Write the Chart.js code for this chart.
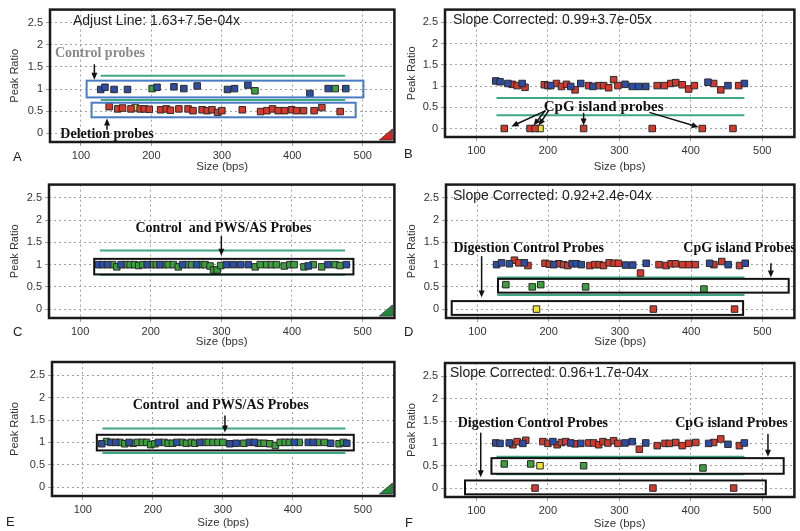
<!DOCTYPE html>
<html>
<head>
<meta charset="utf-8">
<script src="https://cdn.jsdelivr.net/npm/chart.js@4.4.1/dist/chart.umd.min.js"></script>
<style>
  body { margin: 0; background: #fff; width: 800px; height: 531px; overflow: hidden; position: relative; }
  canvas { position: absolute; }
</style>
</head>
<body>
<canvas id="pA"></canvas>
<canvas id="pB"></canvas>
<canvas id="pC"></canvas>
<canvas id="pD"></canvas>
<canvas id="pE"></canvas>
<canvas id="pF"></canvas>
<script>
// axis ticks shared by all six panels
const xTicks = [100, 200, 300, 400, 500];
const yTicks = [0, 0.5, 1, 1.5, 2, 2.5];
const lineX = [128, 475];

// panel A
const aBlue = [[128,0.99],[134,1.04],[147,0.99],[166,0.99],[208,1.04],[232,1.05],[246,1.01],[265,1.07],[308,0.99],[318,1.01],[337,1.09],[425,0.9],[451,1.01],[476,1.01]];
const aRed = [[140,0.6],[152,0.55],[159,0.57],[171,0.55],[184,0.55],[190,0.55],[197,0.54],[213,0.53],[221,0.55],[227,0.52],[239,0.55],[252,0.55],[259,0.51],[272,0.53],[279,0.51],[286,0.53],[294,0.47],[300,0.51],[329,0.53],[355,0.49],[364,0.51],[372,0.55],[380,0.51],[389,0.51],[399,0.53],[406,0.51],[416,0.51],[431,0.51],[442,0.58],[468,0.49]];
const aGreen = [[201,1.01],[347,0.96],[461,1.01]];
const aYellow = [[177,0.58]];
const aLimits = [1.3, 0.75];

// panel B
const bBlue = [[127,1.12],[133,1.1],[144,1.06],[164,1.06],[204,1.01],[232,0.99],[246,1.06],[263,0.99],[308,1.04],[318,0.99],[327,0.99],[337,0.99],[424,1.09],[452,1.01],[475,1.06]];
const bRed = [[150,1.04],[157,1.01],[168,0.97],[195,1.03],[200,1.01],[212,1.06],[219,0.99],[226,1.04],[238,0.91],[257,1.01],[271,1.01],[278,1.01],[285,0.96],[292,1.15],[298,1.01],[353,1.01],[363,1.01],[372,1.06],[379,1.08],[388,1.03],[397,0.93],[405,1.01],[432,1.06],[442,0.91],[467,1.01],
  [139,0],[175,0],[182,0],[250,0],[346,0],[416,0],[459,0]];
const bGreen = [];
const bYellow = [[189,0]];
const bLimits = [0.72, 0.31];

// panel C
const cBlue = [[126,1],[132,1],[139,1],[158,1],[195,1],[213,1],[245,1],[265,1],[307,1],[317,1],[327,1],[338,1],[423,0.97],[451,1],[477,1]];
const cGreen = [[146,1],[152,0.95],[164,1],[171,1],[177,1],[183,0.98],[189,1],[201,1],[208,1],[219,1],[225,1],[232,1],[239,0.95],[251,1],[258,1],[271,1],[277,1],[284,0.97],[289,0.88],[294,0.88],[299,0.98],[348,0.95],[355,1],[364,1],[371,1],[378,1],[389,0.97],[397,1],[403,1],[417,0.95],[430,1],[442,0.95],[461,1],[468,0.98]];
const cRed = [];
const cYellow = [];
const cLimits = [1.32, 0.77];

// panel D
const dBlue = [[127,1],[134,1.04],[145,1.02],[166,1.04],[207,1],[233,1.02],[239,1.02],[246,1],[308,0.99],[318,0.99],[337,1.03],[426,1.03],[452,1],[476,1.03]];
const dRed = [[152,1.1],[158,1.04],[171,0.98],[195,1.03],[201,1.01],[214,1.02],[221,1],[227,0.98],[258,0.98],[265,1],[271,1],[277,0.98],[285,1.04],[292,1.03],[298,1.03],[329,0.81],[355,1],[365,0.98],[372,1.02],[378,1.02],[388,1],[397,1],[406,1],[432,1],[443,1.07],[468,0.98],
  [347,0],[461,0]];
const dGreen = [[140,0.55],[177,0.5],[189,0.55],[252,0.5],[418,0.45]];
const dYellow = [[183,0]];
const dLimits = [0.71, 0.32];

// panel E
const eBlue = [[127,0.97],[140,1],[147,1],[166,1],[208,1],[234,1],[267,1],[310,0.97],[319,0.98],[338,1],[345,1],[402,1],[422,1],[429,1],[454,0.98],[477,0.98]];
const eGreen = [[134,1.02],[153,1],[160,0.97],[172,0.98],[178,1],[185,1],[191,1],[197,0.95],[203,0.97],[216,1],[222,0.98],[228,0.98],[242,1],[248,0.98],[255,1],[260,0.98],[273,1],[279,1],[286,1],[293,1],[300,1],[330,0.98],[351,0.98],[359,0.98],[367,0.97],[375,0.93],[382,1],[389,1],[395,1],[409,1],[435,1],[445,1],[466,0.97],[472,1]];
const eRed = [];
const eYellow = [];
const eLimits = [1.31, 0.76];

// panel F
const fBlue = [[127,1.01],[133,1],[146,1.01],[165,1],[207,1.04],[232,1.01],[246,1],[308,1.01],[318,1.04],[337,1.01],[425,1],[452,0.98],[475,1.01]];
const fRed = [[151,0.97],[157,1.04],[169,1.07],[193,1.04],[200,1],[213,0.97],[219,1.02],[225,1.04],[238,0.99],[257,1.01],[264,1.01],[271,0.97],[277,1.04],[284,1.01],[292,1.06],[298,1],[328,0.87],[353,0.95],[364,1],[370,1],[379,1.02],[388,0.95],[397,1],[407,1.02],[432,1.02],[442,1.1],[468,0.95],
  [182,0],[347,0],[460,0]];
const fGreen = [[139,0.54],[176,0.54],[250,0.5],[417,0.45]];
const fYellow = [[189,0.5]];
const fLimits = [0.7, 0.31];

const SANS = "'Liberation Sans', Arial, sans-serif";
const SERIF = "'Liberation Serif', 'Times New Roman', serif";

// boxes, arrows, labels drawn on top of the plot
const notes = {
  id: 'notes',
  afterDatasetsDraw(chart, args, o) {
    const { ctx, scales: { x, y } } = chart;
    ctx.save();
    (o.boxes || []).forEach(b => {
      ctx.lineWidth = 2;
      ctx.strokeStyle = b.color;
      const px0 = x.getPixelForValue(b.x0), px1 = x.getPixelForValue(b.x1);
      const py0 = y.getPixelForValue(b.y1), py1 = y.getPixelForValue(b.y0);
      ctx.strokeRect(px0, py0, px1 - px0, py1 - py0);
    });
    (o.arrows || []).forEach(r => {
      const x0 = x.getPixelForValue(r.x0), y0 = y.getPixelForValue(r.y0);
      const x1 = x.getPixelForValue(r.x1), y1 = y.getPixelForValue(r.y1);
      const ang = Math.atan2(y1 - y0, x1 - x0);
      ctx.strokeStyle = '#111';
      ctx.fillStyle = '#111';
      ctx.lineWidth = 1.5;
      ctx.beginPath();
      ctx.moveTo(x0, y0);
      ctx.lineTo(x1 - 4 * Math.cos(ang), y1 - 4 * Math.sin(ang));
      ctx.stroke();
      ctx.beginPath();
      ctx.moveTo(x1, y1);
      ctx.lineTo(x1 - 7 * Math.cos(ang) + 3 * Math.sin(ang), y1 - 7 * Math.sin(ang) - 3 * Math.cos(ang));
      ctx.lineTo(x1 - 7 * Math.cos(ang) - 3 * Math.sin(ang), y1 - 7 * Math.sin(ang) + 3 * Math.cos(ang));
      ctx.closePath();
      ctx.fill();
    });
    (o.texts || []).forEach(t => {
      ctx.font = 'bold ' + (t.size || 14) + 'px ' + SERIF;
      ctx.fillStyle = t.color || '#111';
      ctx.textAlign = 'center';
      ctx.textBaseline = 'middle';
      ctx.fillText(t.text, x.getPixelForValue(t.x), y.getPixelForValue(t.y));
    });
    ctx.restore();
  },
  afterDraw(chart, args, o) {
    const { ctx, chartArea: a } = chart;
    ctx.save();
    if (o.corner) {
      ctx.fillStyle = o.corner;
      ctx.strokeStyle = '#333';
      ctx.lineWidth = 0.8;
      ctx.beginPath();
      ctx.moveTo(a.right - 2, a.bottom - 2);
      ctx.lineTo(a.right - 2, a.bottom - 13);
      ctx.lineTo(a.right - 15, a.bottom - 2);
      ctx.closePath();
      ctx.fill();
      ctx.stroke();
    }
    ctx.strokeStyle = '#1a1a1a';
    ctx.lineWidth = 2.5;
    ctx.strokeRect(a.left, a.top, a.right - a.left, a.bottom - a.top);
    if (o.fit) {
      ctx.font = '14px ' + SANS;
      ctx.fillStyle = '#222';
      ctx.textAlign = 'left';
      ctx.textBaseline = 'middle';
      ctx.fillText(o.fit, a.left + o.fitDx, a.top + o.fitDy);
    }
    ctx.font = '13px ' + SANS;
    ctx.fillStyle = '#222';
    ctx.textAlign = 'left';
    ctx.textBaseline = 'middle';
    ctx.fillText(o.letter, o.letterX, o.letterY);
    ctx.restore();
  }
};

const pts = arr => arr.map(p => ({ x: p[0], y: p[1] }));

function panel(id, cfg) {
  const cv = document.getElementById(id);
  cv.width = 400; cv.height = cfg.h;
  cv.style.left = cfg.left + 'px'; cv.style.top = cfg.top + 'px';
  const area = cfg.area;
  const mark = (data, fill) => ({
    data: pts(data), backgroundColor: fill, borderColor: '#2a2a2a', borderWidth: 1,
    pointStyle: 'rect', pointRadius: 4.6, pointHoverRadius: 4.6, order: 1
  });
  const limit = v => ({
    type: 'line', data: lineX.map(xv => ({ x: xv, y: v })), borderColor: '#3fa883',
    borderWidth: 2, pointRadius: 0, order: 2
  });
  new Chart(cv, {
    type: 'scatter',
    data: {
      datasets: [
        limit(cfg.limits[0]), limit(cfg.limits[1]),
        mark(cfg.blue, '#2c4da3'), mark(cfg.red, '#d23a2e'),
        mark(cfg.green, '#3c9e3c'), mark(cfg.yellow, '#ece43a')
      ]
    },
    options: {
      responsive: false, animation: false, devicePixelRatio: 1,
      layout: { padding: { left: 0, top: area.t, right: 400 - area.r, bottom: 0 } },
      plugins: {
        legend: { display: false }, tooltip: { enabled: false },
        notes: cfg.notes
      },
      scales: {
        x: {
          type: 'linear', min: 56, max: 545,
          afterBuildTicks: s => { s.ticks = xTicks.map(v => ({ value: v })); },
          afterFit: s => { s.height = cfg.h - area.b; },
          ticks: { color: '#333', font: { family: SANS, size: 11 }, padding: 3, maxRotation: 0, callback: v => String(v) },
          grid: { color: '#a0a0a0', lineWidth: 1, tickLength: 4 },
          border: { display: false, dash: [2, 3] },
          title: { display: true, text: 'Size (bps)', color: '#333', font: { family: SANS, size: 11.5 }, padding: { top: 0, bottom: cfg.titleB } }
        },
        y: {
          type: 'linear', min: -0.2, max: 2.8,
          afterBuildTicks: s => { s.ticks = yTicks.map(v => ({ value: v })); },
          afterFit: s => { s.width = area.l; },
          ticks: { color: '#333', font: { family: SANS, size: 11 }, padding: 3, callback: v => String(v) },
          grid: { color: '#a0a0a0', lineWidth: 1, tickLength: 4 },
          border: { display: false, dash: [2, 3] },
          title: { display: true, text: 'Peak Ratio', color: '#333', font: { family: SANS, size: 11 }, padding: { top: cfg.titleL, bottom: 0 } }
        }
      }
    },
    plugins: [notes]
  });
}

panel('pA', {
  left: 0, top: 0, h: 177, area: { l: 50, t: 5, r: 395, b: 142 }, titleB: 3, titleL: 8,
  blue: aBlue, red: aRed, green: aGreen, yellow: aYellow, limits: aLimits,
  notes: {
    letter: 'A', letterX: 13, letterY: 157, corner: '#d8231f',
    fit: 'Adjust Line: 1.63+7.5e-04x', fitDx: 23, fitDy: 12,
    boxes: [{ x0: 108, x1: 501, y0: 0.81, y1: 1.19, color: '#4a7cc4' }, { x0: 115, x1: 490, y0: 0.36, y1: 0.69, color: '#4a7cc4' }],
    arrows: [{ x0: 119, y0: 1.56, x1: 119, y1: 1.21 }, { x0: 137, y0: 0.08, x1: 137, y1: 0.33 }],
    texts: [{ text: 'Control probes', x: 127, y: 1.8, color: '#8a8a8a' }, { text: 'Deletion probes', x: 137, y: -0.03 }]
  }
});

panel('pB', {
  left: 400, top: 0, h: 177, area: { l: 45, t: 5, r: 395, b: 137 }, titleB: 3, titleL: 5,
  blue: bBlue, red: bRed, green: bGreen, yellow: bYellow, limits: bLimits,
  notes: {
    letter: 'B', letterX: 4, letterY: 154,
    fit: 'Slope Corrected: 0.99+3.7e-05x', fitDx: 8, fitDy: 11,
    arrows: [{ x0: 197, y0: 0.42, x1: 149, y1: 0.05 }, { x0: 196, y0: 0.42, x1: 180, y1: 0.07 }, { x0: 201, y0: 0.42, x1: 187, y1: 0.07 },
      { x0: 250, y0: 0.37, x1: 250, y1: 0.07 }, { x0: 342, y0: 0.38, x1: 411, y1: 0.03 }],
    texts: [{ text: 'CpG island probes', x: 278, y: 0.5, size: 15 }]
  }
});

panel('pC', {
  left: 0, top: 175, h: 177, area: { l: 49, t: 8, r: 396, b: 143 }, titleB: 3, titleL: 8,
  blue: cBlue, red: cRed, green: cGreen, yellow: cYellow, limits: cLimits,
  notes: {
    letter: 'C', letterX: 13, letterY: 157, corner: '#1f8a3a',
    boxes: [{ x0: 120, x1: 487, y0: 0.78, y1: 1.13, color: '#111' }],
    arrows: [{ x0: 300, y0: 1.64, x1: 300, y1: 1.2 }],
    texts: [{ text: 'Control  and PWS/AS Probes', x: 303, y: 1.81 }]
  }
});

panel('pD', {
  left: 400, top: 175, h: 177, area: { l: 46, t: 8, r: 395, b: 143 }, titleB: 3, titleL: 5,
  blue: dBlue, red: dRed, green: dGreen, yellow: dYellow, limits: dLimits,
  notes: {
    letter: 'D', letterX: 4, letterY: 157,
    fit: 'Slope Corrected: 0.92+2.4e-04x', fitDx: 7, fitDy: 12,
    boxes: [{ x0: 129, x1: 537, y0: 0.37, y1: 0.68, color: '#111' }, { x0: 64, x1: 473, y0: -0.13, y1: 0.18, color: '#111' }],
    arrows: [{ x0: 106, y0: 1.19, x1: 106, y1: 0.26 }, { x0: 512, y0: 1.03, x1: 512, y1: 0.71 }],
    texts: [{ text: 'Digestion Control Probes', x: 172, y: 1.37 }, { text: 'CpG island Probes', x: 468, y: 1.37 }]
  }
});

panel('pE', {
  left: 0, top: 350, h: 181, area: { l: 52, t: 12, r: 397, b: 146 }, titleB: 1, titleL: 8,
  blue: eBlue, red: eRed, green: eGreen, yellow: eYellow, limits: eLimits,
  notes: {
    letter: 'E', letterX: 6, letterY: 172, corner: '#1f8a3a',
    boxes: [{ x0: 120, x1: 487, y0: 0.82, y1: 1.17, color: '#111' }],
    arrows: [{ x0: 303, y0: 1.6, x1: 303, y1: 1.22 }],
    texts: [{ text: 'Control  and PWS/AS Probes', x: 297, y: 1.83 }]
  }
});

panel('pF', {
  left: 400, top: 350, h: 181, area: { l: 45, t: 13, r: 397, b: 147 }, titleB: 0, titleL: 5,
  blue: fBlue, red: fRed, green: fGreen, yellow: fYellow, limits: fLimits,
  notes: {
    letter: 'F', letterX: 5, letterY: 173,
    fit: 'Slope Corrected: 0.96+1.7e-04x', fitDx: 5, fitDy: 10,
    boxes: [{ x0: 121, x1: 530, y0: 0.32, y1: 0.67, color: '#111' }, { x0: 84, x1: 505, y0: -0.14, y1: 0.17, color: '#111' }],
    arrows: [{ x0: 106, y0: 1.24, x1: 106, y1: 0.24 }, { x0: 508, y0: 1.21, x1: 508, y1: 0.7 }],
    texts: [{ text: 'Digestion Control Probes', x: 179, y: 1.44 }, { text: 'CpG island Probes', x: 457, y: 1.44 }]
  }
});
</script>
</body>
</html>
